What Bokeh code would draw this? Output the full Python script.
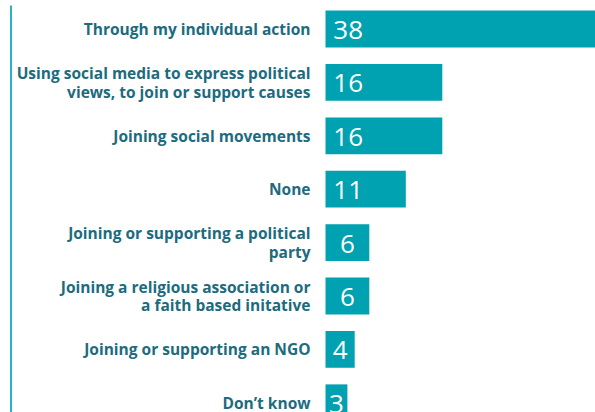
import numpy as np
from bokeh.plotting import figure
from bokeh.models import ColumnDataSource, Range1d
from bokeh.core.properties import value
from bokeh.embed import file_html
from bokeh.resources import INLINE

categories = [
    "Through my individual action",
    "Using social media to express political\nviews, to join or support causes",
    "Joining social movements",
    "None",
    "Joining or supporting a political\nparty",
    "Joining a religious association or\na faith based initative",
    "Joining or supporting an NGO",
    "Don\u2019t know",
]
values = [38, 16, 16, 11, 6, 6, 4, 3]

BAR = "#00a1b0"
LABEL = "#1c6b7e"
LINE = "#2ab4c1"

W, H = 595, 412
xscale = 7.3          # px per unit
bar_left_px = 325     # px where zero lies
yscale = 53.4         # px per category
top_center_px = 28.5

x_start = -bar_left_px / xscale
x_end = (W - bar_left_px) / xscale
y_end = top_center_px / yscale
y_start = y_end - H / yscale

vals = np.array(values, dtype=float)
ypos = -np.arange(len(categories), dtype=float)
src = ColumnDataSource(dict(
    cat=categories,
    val=vals,
    y=ypos,
    lx=np.minimum(vals / 2, 3.1),
    lab=[str(v) for v in values],
    zero=np.zeros(len(values)),
))

p = figure(width=W, height=H, output_backend="svg", toolbar_location=None,
           x_range=Range1d(x_start, x_end), y_range=Range1d(y_start, y_end),
           min_border=0)
p.axis.visible = False
p.grid.visible = False
p.outline_line_color = None
p.background_fill_color = "white"

p.hbar(y="y", left="zero", right="val", height=0.69, color=BAR, line_color=None, source=src)

p.text(x="lx", y="y", text="lab", source=src, text_align="center", text_baseline="middle",
       text_font=value("Open Sans"), text_font_size="26px", text_color="white", y_offset=1)

p.text(x="zero", y="y", text="cat", source=src, x_offset=-15, text_align="right",
       text_baseline="middle", text_font=value("Open Sans"), text_font_style="bold",
       text_font_size="15.5px", text_color=LABEL, text_line_height=0.85)

xl = x_start + 10.5 / xscale
p.segment(x0=[xl], y0=[y_end - 5 / yscale], x1=[xl], y1=[y_start],
          line_color=LINE, line_width=2)

open("out.html", "w").write(file_html(p, INLINE))
